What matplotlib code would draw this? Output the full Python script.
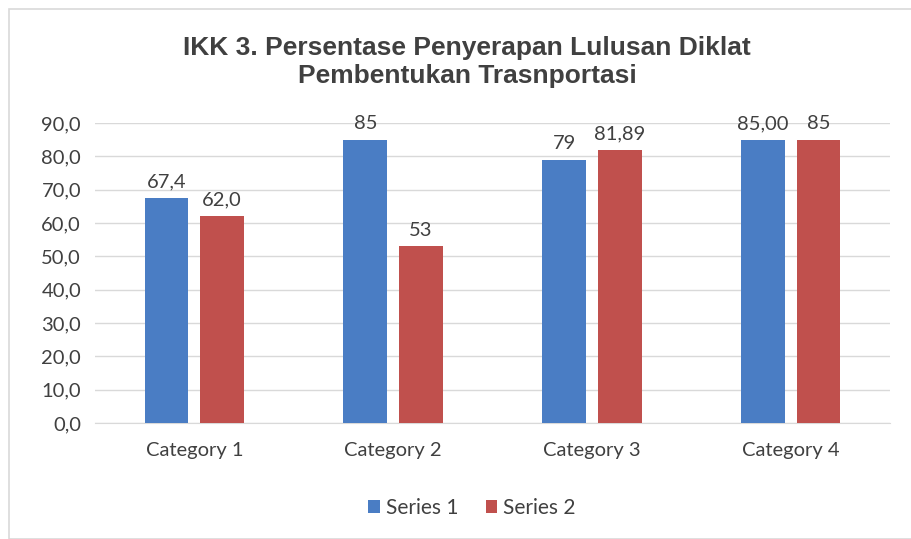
import matplotlib
matplotlib.use("Agg")
import matplotlib.pyplot as plt
import numpy as np
from matplotlib.patches import Rectangle

categories = ["Category 1", "Category 2", "Category 3", "Category 4"]
series1 = [67.4, 85, 79, 85.00]
series2 = [62.0, 53, 81.89, 85]
labels1 = ["67,4", "85", "79", "85,00"]
labels2 = ["62,0", "53", "81,89", "85"]
yticks = [0, 10, 20, 30, 40, 50, 60, 70, 80, 90]
ytick_labels = ["0,0", "10,0", "20,0", "30,0", "40,0", "50,0", "60,0", "70,0", "80,0", "90,0"]
title = "IKK 3. Persentase Penyerapan Lulusan Diklat\nPembentukan Trasnportasi"

c1 = "#4A7DC4"
c2 = "#C0504D"
txt = "#404040"
fs = 14.5

fig = plt.figure(figsize=(9.11, 5.39), dpi=100)
fig.patches.append(Rectangle((9/911, 0), 1, 1 - 9/539, transform=fig.transFigure,
                             fill=False, edgecolor="#D9D9D9", linewidth=1.2))
ax = fig.add_axes([95/911, 116/539, (890-95)/911, (423-123)/539])

x = np.arange(len(categories))
w = 0.22
off = 0.14
b1 = ax.bar(x - off, series1, w, color=c1, label="Series 1", zorder=3)
b2 = ax.bar(x + off, series2, w, color=c2, label="Series 2", zorder=3)

for rect, lab in zip(b1, labels1):
    ax.text(rect.get_x() + rect.get_width()/2, rect.get_height() + 2.3, lab,
            ha="center", va="bottom", fontsize=fs, color=txt, family="Lato")
for rect, lab in zip(b2, labels2):
    ax.text(rect.get_x() + rect.get_width()/2, rect.get_height() + 2.3, lab,
            ha="center", va="bottom", fontsize=fs, color=txt, family="Lato")

ax.set_xlim(-0.5, 3.5)
ax.set_ylim(0, 90)
ax.set_yticks(yticks)
ax.set_yticklabels(ytick_labels, fontsize=fs, color=txt, family="Lato")
ax.set_xticks(x)
ax.set_xticklabels(categories, fontsize=fs, color=txt, family="Lato")
ax.tick_params(axis="y", length=0, pad=10)
ax.tick_params(axis="x", length=0, pad=14)
ax.yaxis.grid(True, color="#D9D9D9", linewidth=1, zorder=0)
for s in ["top", "right", "left"]:
    ax.spines[s].set_visible(False)
ax.spines["bottom"].set_color("#D9D9D9")

fig.text(467/911, 1 - 62/539, title, ha="center", va="center", fontsize=19,
         fontweight="bold", color="#404040", family="Liberation Sans", linespacing=1.22)

leg = fig.legend(handles=[b1, b2], loc="center", bbox_to_anchor=(472/911, 1 - 508/539),
                 ncol=2, frameon=False, prop={"family": "Lato", "size": 15},
                 handlelength=0.55, handleheight=0.55, handletextpad=0.3, columnspacing=1.3)
for t in leg.get_texts():
    t.set_color(txt)

fig.savefig("out.png", dpi=100)
